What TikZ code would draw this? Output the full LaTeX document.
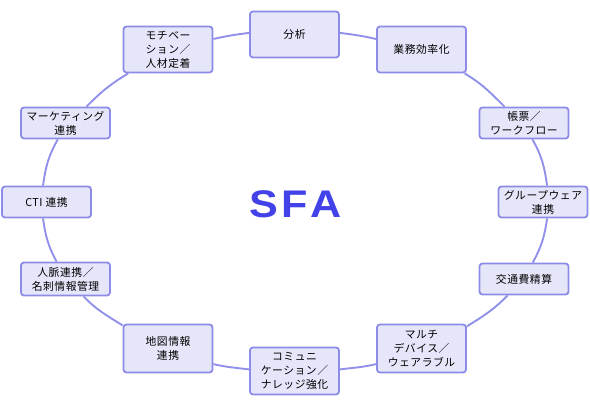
\documentclass[tikz,border=0pt]{standalone}
\usepackage{fontspec}
\newfontfamily\jp{Noto Sans CJK JP}[LetterSpace=5.0]
\newfontfamily\sfabold{Liberation Sans Bold}[FakeStretch=1.12]
\definecolor{boxfill}{RGB}{230,230,250}
\definecolor{boxline}{RGB}{140,140,232}
\definecolor{linkcol}{RGB}{145,145,235}
\definecolor{sfacol}{RGB}{66,66,232}
\tikzset{
  item/.style={draw=boxline, fill=boxfill, line width=1.8pt, rounded corners=3pt,
    minimum width=89pt, inner sep=1pt, align=center,
    font=\jp\fontsize{10.8pt}{14pt}\selectfont},
  tall/.style={item, minimum height=46pt},
  short/.style={item, minimum height=31pt},
  link/.style={draw=linkcol, line width=1.9pt},
  title/.style={text=sfacol, font=\sfabold\fontsize{38.5pt}{40pt}\selectfont, inner sep=0pt}
}
\begin{document}
\begin{tikzpicture}[x=1pt,y=1pt]
\useasboundingbox[fill=white] (0,0) rectangle (590,409);
\node[tall]  (bunseki) at (294.5,374.5) {分析};
\node[tall]  (gyomu)   at (421.5,359.5) {業務効率化};
\node[short] (chohyo)  at (524,286) {帳票／\\ワークフロー};
\node[short] (group)   at (543,207) {グループウェア\\連携};
\node[short] (kotsu)   at (524,130) {交通費精算};
\node[tall, minimum height=48pt] (multi) at (421.5,60.5) {マルチ\\デバイス／\\ウェアラブル};
\node[tall, minimum height=47pt] (comm)  at (294.5,38) {コミュニ\\ケーション／\\ナレッジ強化};
\node[tall, minimum height=48pt] (chizu) at (168,60.5) {地図情報\\連携};
\node[short, minimum height=33pt] (jinmyaku) at (65.5,130) {人脈連携／\\名刺情報管理};
\node[short] (cti)     at (46.5,207) {CTI 連携};
\node[short] (mkt)     at (65.5,286) {マーケティング\\連携};
\node[tall]  (moti)    at (168,359.5) {モチベー\\ション／\\人材定着};
\node[title] (sfa) at (296,205) {S\kern2.5pt F\kern3.5pt A};
% connectors along the ellipse
\draw[link] (moti.13)   to[out=13,in=-173]   (bunseki.178);
\draw[link] (bunseki.2) to[out=-7,in=167]    (gyomu.167);
\draw[link] (gyomu.-29.5) to[out=-31,in=135] (chohyo.140);
\draw[link] (chohyo.-63) to[out=-60,in=98]   (group.76);
\draw[link] (group.-76) to[out=-98,in=61]    (kotsu.62);
\draw[link] (kotsu.-135) to[out=-134,in=32]  (multi.26);
\draw[link] (multi.199) to[out=-167,in=7]    (comm.2.5);
\draw[link] (comm.178.7) to[out=173,in=-13]  (chizu.-19);
\draw[link] (chizu.153) to[out=148,in=-46]   (jinmyaku.-44);
\draw[link] (jinmyaku.117) to[out=119,in=-82] (cti.-102);
\draw[link] (cti.102) to[out=82,in=-120]     (mkt.-115);
\draw[link] (mkt.38) to[out=45,in=-149]      (moti.-149);
\end{tikzpicture}
\end{document}
